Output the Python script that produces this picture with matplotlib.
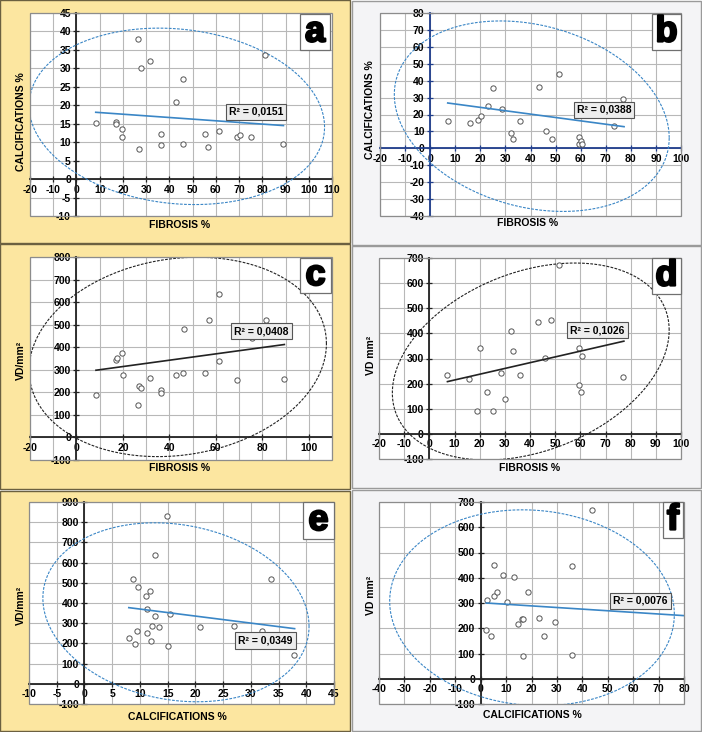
import numpy as np
import matplotlib.pyplot as plt
import matplotlib.patheffects as pe
from matplotlib.patches import Rectangle

plt.rcParams['font.family'] = ['Liberation Sans', 'DejaVu Sans']
plt.rcParams['font.weight'] = 'bold'

W, H = 702, 732

# a: fibrosis % vs calcifications %
fib_a = [8.3, 17.0, 17.2, 19.8, 19.4, 26.3, 27.0, 27.6, 31.5, 36.2, 36.4,
         42.7, 45.8, 45.8, 55.2, 56.6, 61.2, 69.0, 70.5, 75.1, 81.0, 89.1]
calc_a = [15.1, 15.5, 15.0, 13.7, 11.3, 37.9, 8.1, 30.2, 32.0, 12.1, 9.3,
          21.0, 27.0, 9.6, 12.3, 8.8, 12.9, 11.3, 12.0, 11.3, 33.5, 9.6]
trend_a_x = [8.3, 89.1]
trend_a_y = [18.1, 14.5]

# b: fibrosis % vs calcifications %
fib_b = [7.0, 15.7, 19.1, 20.1, 23.1, 25.2, 28.7, 32.4, 33.1, 36.0,
         43.2, 46.1, 48.5, 51.4, 59.5, 59.5, 60.2, 60.7, 73.2, 76.9]
calc_b = [16.4, 14.8, 16.7, 18.9, 25.0, 35.9, 23.1, 8.9, 5.3, 16.2,
          36.1, 10.4, 5.3, 43.9, 6.7, 2.4, 4.1, 2.6, 13.4, 29.2]
trend_b_x = [7.0, 77.3]
trend_b_y = [26.8, 12.8]

# c: fibrosis % vs VD/mm2
fib_c = [8.4, 17.0, 17.3, 19.5, 19.9, 26.4, 26.8, 27.8, 31.6, 36.4, 36.5,
         42.9, 46.0, 46.2, 55.4, 57.0, 61.5, 61.5, 69.3, 75.5, 81.4, 89.5]
vd_c = [186, 345, 354, 374, 279, 144, 227, 220, 262, 212, 195,
        279, 286, 479, 286, 521, 636, 337, 253, 441, 521, 261]
trend_c_x = [8.4, 89.5]
trend_c_y = [298, 412]

# d: fibrosis % vs VD mm2
fib_d = [7.2, 15.7, 19.1, 20.1, 23.1, 25.2, 28.6, 29.9, 32.4, 33.1,
         36.0, 43.2, 46.1, 48.5, 51.4, 59.5, 59.5, 60.6, 60.3, 76.9]
vd_d = [235, 218, 91, 343, 168, 91, 242, 139, 410, 328,
        235, 446, 302, 455, 673, 343, 193, 311, 168, 225]
trend_d_x = [7.2, 77.3]
trend_d_y = [208, 369]

# e: calcifications % vs VD/mm2
calc_e = [8.1, 8.7, 9.2, 9.5, 9.7, 11.1, 11.2, 11.2, 11.8, 12.0, 12.2,
          12.7, 12.8, 13.5, 14.9, 15.1, 15.5, 20.9, 26.9, 32.0, 33.6, 37.8]
vd_e = [228, 521, 195, 263, 479, 435, 370, 253, 458, 212, 286,
        336, 636, 280, 831, 185, 347, 280, 286, 263, 521, 144]
trend_e_x = [8.0, 37.9]
trend_e_y = [377, 273]

# f: calcifications % vs VD mm2
calc_f = [2.2, 2.5, 4.2, 5.1, 5.2, 6.4, 8.9, 10.4, 13.2, 14.7,
          16.1, 16.5, 16.7, 18.8, 22.8, 25.0, 29.1, 35.9, 35.9, 43.8]
vd_f = [192, 310, 169, 327, 452, 344, 410, 302, 402, 217,
        235, 235, 92, 344, 241, 169, 225, 445, 94, 669]
trend_f_x = [2.2, 80.0]
trend_f_y = [300, 250]

# hand drawn ellipses: centre x, centre y, half width, half height, tilt
ell_a = [43.2, 17.0, 63.6, 23.9, -2.9]
ell_b = [40.5, 19.0, 54.8, 56.3, -12.8]
ell_c = [43.6, 357, 64.0, 442, 59]
ell_d = [40.3, 288, 55.0, 392, 125]
ell_e = [16.5, 354, 24.0, 443, -70]
ell_f = [20.2, 281, 56.0, 388, -26]

r2_labels = ['R² = 0,0151', 'R² = 0,0388', 'R² = 0,0408',
             'R² = 0,1026', 'R² = 0,0349', 'R² = 0,0076']

YELLOW = '#FCE6A0'
GREYBG = '#F4F4F6'
BLUE = '#3A86C6'
DARK = '#222222'


def fbox(x0, y0, x1, y1):
    return [x0 / W, 1 - y1 / H, (x1 - x0) / W, (y1 - y0) / H]


fig = plt.figure(figsize=(W / 100, H / 100), dpi=100)

# panel backgrounds
for (x0, y0, x1, y1), col, ec in [
        ((0, 0, 350, 243), YELLOW, '#6b6040'),
        ((0, 244, 350, 489), YELLOW, '#6b6040'),
        ((0, 491, 350, 731), YELLOW, '#6b6040'),
        ((352, 1, 701, 245), GREYBG, '#9a9a9a'),
        ((352, 246, 701, 488), GREYBG, '#9a9a9a'),
        ((352, 490, 701, 731), GREYBG, '#9a9a9a')]:
    b = fbox(x0, y0, x1, y1)
    fig.patches.append(Rectangle((b[0], b[1]), b[2], b[3], transform=fig.transFigure,
                                 facecolor=col, edgecolor=ec, lw=1, zorder=-10))

panels = [
    dict(box=(30, 13, 332, 216), x=fib_a, y=calc_a, tx=trend_a_x, ty=trend_a_y,
         xlim=(-20, 110), ylim=(-10, 45), xt=10, xg=10, yt=5, ell=ell_a,
         col=BLUE, axcol=DARK, r2=r2_labels[0], r2pos=(77.3, 18.2),
         xlabel='FIBROSIS %', ylabel='CALCIFICATIONS %', xlpos=(180, 225), ylpos=(21, 122),
         letter='a', lbox=(300, 14, 330, 50)),
    dict(box=(380, 13, 681, 216), x=fib_b, y=calc_b, tx=trend_b_x, ty=trend_b_y,
         xlim=(-20, 100), ylim=(-40, 80), xt=10, xg=10, yt=10, ell=ell_b,
         col=BLUE, axcol='#1F3D8C', r2=r2_labels[1], r2pos=(69.3, 22.7),
         xlabel='FIBROSIS %', ylabel='CALCIFICATIONS %', xlpos=(528, 223), ylpos=(370, 110),
         letter='b', lbox=(652, 14, 681, 50)),
    dict(box=(30, 257, 332, 460), x=fib_c, y=vd_c, tx=trend_c_x, ty=trend_c_y,
         xlim=(-20, 110), ylim=(-100, 800), xt=20, xg=10, yt=100, ell=ell_c,
         col=DARK, axcol=DARK, r2=r2_labels[2], r2pos=(79.7, 471),
         xlabel='FIBROSIS %', ylabel='VD/mm²', xlpos=(180, 468), ylpos=(21, 360),
         letter='c', lbox=(300, 258, 331, 293)),
    dict(box=(379, 258, 681, 459), x=fib_d, y=vd_d, tx=trend_d_x, ty=trend_d_y,
         xlim=(-20, 100), ylim=(-100, 700), xt=10, xg=10, yt=100, ell=ell_d,
         col=DARK, axcol=DARK, r2=r2_labels[3], r2pos=(66.7, 413),
         xlabel='FIBROSIS %', ylabel='VD mm²', xlpos=(530, 468), ylpos=(371, 355),
         letter='d', lbox=(652, 258, 681, 294)),
    dict(box=(29, 502, 334, 704), x=calc_e, y=vd_e, tx=trend_e_x, ty=trend_e_y,
         xlim=(-10, 45), ylim=(-100, 900), xt=5, xg=5, yt=100, ell=ell_e,
         col=BLUE, axcol=DARK, r2=r2_labels[4], r2pos=(32.6, 214),
         xlabel='CALCIFICATIONS %', ylabel='VD/mm²', xlpos=(177, 717), ylpos=(21, 605),
         letter='e', lbox=(303, 502, 334, 539)),
    dict(box=(379, 502, 684, 704), x=calc_f, y=vd_f, tx=trend_f_x, ty=trend_f_y,
         xlim=(-40, 80), ylim=(-100, 700), xt=10, xg=10, yt=100, ell=ell_f,
         col=BLUE, axcol=DARK, r2=r2_labels[5], r2pos=(62.8, 308),
         xlabel='CALCIFICATIONS %', ylabel='VD mm²', xlpos=(532, 715), ylpos=(371, 595),
         letter='f', lbox=(663, 502, 683, 538)),
]

t = np.linspace(0, 2 * np.pi, 400)

for p in panels:
    ax = fig.add_axes(fbox(*p['box']))
    ax.set_facecolor('white')
    ax.set_xlim(*p['xlim'])
    ax.set_ylim(*p['ylim'])
    ax.set_xticks(np.arange(p['xlim'][0], p['xlim'][1] + 0.01, p['xt']))
    ax.set_xticks(np.arange(p['xlim'][0], p['xlim'][1] + 0.01, p['xg']), minor=True)
    ax.set_yticks(np.arange(p['ylim'][0], p['ylim'][1] + 0.01, p['yt']))
    ax.xaxis.set_major_formatter(plt.FuncFormatter(lambda v, pos: '%g' % v))
    ax.yaxis.set_major_formatter(plt.FuncFormatter(lambda v, pos: '%g' % v))
    ax.grid(True, which='both', color='#B8B8B8', lw=0.8)
    ax.set_axisbelow(True)

    for side in ['top', 'right']:
        ax.spines[side].set_visible(False)
    ax.spines['left'].set_position(('data', 0))
    ax.spines['bottom'].set_position(('data', 0))
    for side in ['left', 'bottom']:
        ax.spines[side].set_color(p['axcol'])
        ax.spines[side].set_linewidth(1.3)
    ax.add_patch(Rectangle((0, 0), 1, 1, transform=ax.transAxes, fill=False,
                           edgecolor='#8C8C8C', lw=0.9, clip_on=False, zorder=5))
    ax.tick_params(which='major', direction='inout', length=5, width=0.9,
                   color=p['axcol'], labelsize=7.5, pad=1.5)
    ax.tick_params(which='minor', length=0)

    # ellipse
    cx, cy, rx, h, dy = p['ell']
    ry = np.sqrt(h ** 2 - dy ** 2)
    ax.plot(cx + rx * np.cos(t), cy + dy * np.cos(t) + ry * np.sin(t),
            color=p['col'], lw=0.8, ls=(0, (2.5, 1.2)), zorder=3)

    ax.plot(p['x'], p['y'], 'o', ms=3.8, mfc='white', mec='#555555', mew=0.7, zorder=4)
    ax.plot(p['tx'], p['ty'], color=p['col'], lw=1.2, zorder=4)

    ax.text(p['r2pos'][0], p['r2pos'][1], p['r2'], fontsize=7.5, ha='center', va='center',
            zorder=6, bbox=dict(boxstyle='square,pad=0.3', fc='#EDEDED', ec='#555555', lw=0.8))

    fig.text(p['xlpos'][0] / W, 1 - p['xlpos'][1] / H, p['xlabel'], fontsize=7.5,
             ha='center', va='center')
    fig.text(p['ylpos'][0] / W, 1 - p['ylpos'][1] / H, p['ylabel'], fontsize=7.5,
             ha='center', va='center', rotation=90)

    lb = fbox(*p['lbox'])
    fig.add_artist(Rectangle((lb[0], lb[1]), lb[2], lb[3], transform=fig.transFigure,
                             facecolor='white', edgecolor='#707070', lw=0.9, zorder=10))
    fig.text(lb[0] + lb[2] / 2, lb[1] + lb[3] / 2, p['letter'], fontsize=26,
             fontweight='bold', ha='center', va='center', zorder=11,
             path_effects=[pe.withStroke(linewidth=1.6, foreground='black')])

fig.savefig('out.png', dpi=100)
